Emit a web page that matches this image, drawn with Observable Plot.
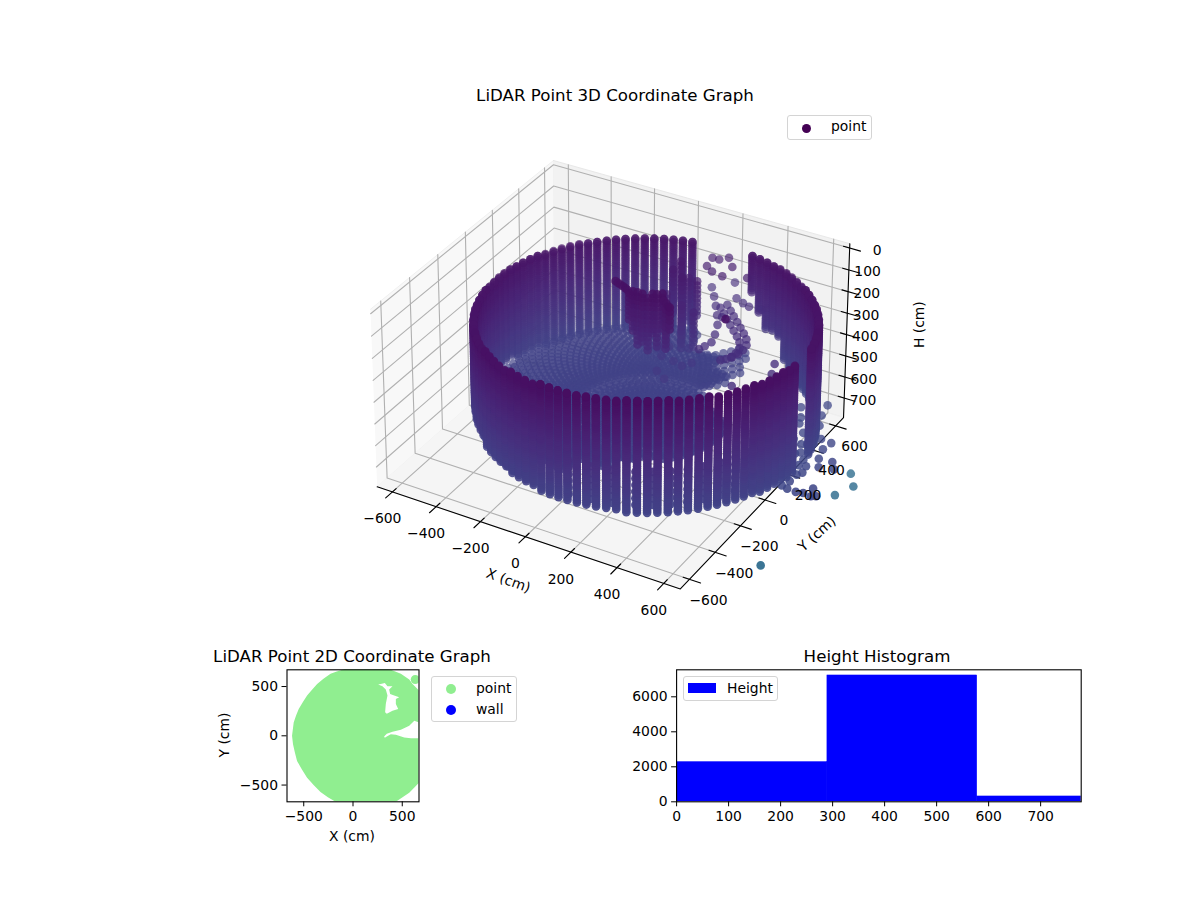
<!DOCTYPE html>
<html><head><meta charset="utf-8">
<script src="https://cdn.jsdelivr.net/npm/d3@7"></script>
<script src="https://cdn.jsdelivr.net/npm/@observablehq/plot@0.6"></script>
<style>
html,body{margin:0;padding:0;background:#fff}
#fig{position:relative;width:1200px;height:900px;overflow:hidden;font-family:"DejaVu Sans",sans-serif;color:#000}
#fig>svg,#fig>div.p{position:absolute}
.t{position:absolute;white-space:nowrap;line-height:1}
.title{font-size:16.67px;transform:translateX(-50%)}
.lab{font-size:13.9px;transform:translateX(-50%)}
.leg{position:absolute;box-sizing:border-box;border:1px solid #d4d4d4;border-radius:3px;background:#fff;font-size:13.9px}
.leg span{position:absolute;line-height:1;white-space:nowrap}
.leg i{position:absolute;display:block;border-radius:50%}
</style></head><body><div id="fig"></div>
<script>
// ---------- axes of the 3D panel
const xTicks=[-600,-400,-200,0,200,400,600];
const yTicks=[-600,-400,-200,0,200,400,600];
const hTicks=[0,100,200,300,400,500,600,700];
const xLim=[-670,670], yLim=[-670,670], hLim=[-20,793];
// ---------- wall of the scanned room
const ringX=125, ringY=30, wallRadius=662;
const wallAngles=[0,3.3,6.7,10,13.3,16.7,20,23.3,26.7,30,33.3,36.7,40,43.3,46.7,50,53.3,56.7,60,63.3,66.7,70,73.3,76.7,80,83.3,86.7,90,93.3,96.7,100,103.3,106.7,110,113.3,116.7,120,123.3,126.7,130,133.3,136.7,140,143.3,146.7,150,153.3,156.7,160,163.3,166.7,170,173.3,176.7,180,183.3,186.7,190,193.3,196.7,200,203.3,206.7,210,213.3,216.7,220,223.3,226.7,230,233.3,236.7,240,243.3,246.7,250,253.3,256.7,260,263.3,266.7,270,273.3,276.7,280,283.3,286.7,290,293.3,296.7,300,303.3,306.7,310,313.3,316.7,320,323.3,326.7,330,333.3,336.7,340,343.3,346.7,350,353.3,356.7];
const wallLevels=[60,70,80,90,100,110,120,130,140,150,160,170,180,190,200,210,220,230,240,250,260,270,280,290,300,310,320,330,340,350,360,370,380,390,400,410,420,430,440,450,460,470,480,490,500,510,520,530,540,550,560,570,580,590,600,610,620,630,640];
const objectLevels=[120,140,160,180,200,220,240,260,280,300,320,340,360,380,400,420,440,460,480,500];
// per 15 degree sector, 0..345
const wallTop=[135,145,155,160,165,170,175,180,180,180,175,170,165,160,155,145,135,123,110,105,100,105,115,125];
const wallBottom=[625,635,640,620,620,400,400,600,600,600,600,590,570,545,530,545,570,586,590,595,600,600,605,615];
// the wall's ragged lower edge beside the back gap
const edgeAngles=[56.7,60,63.3,66.7,70,73.3,76.7,80];
const edgeBottoms=[620,590,570,480,470,480,420,340];
const wallGapFrom=[0,82,357], wallGapTo=[8,103,360];
// second, inner row of returns low on the front-right wall
const innerRadius=625;
const innerAngles=[272,280,288,296,302,308,314,320,326,332,338,344,350];
const innerLevels=[440,470,500,530,560,590];
// ---------- floor
const floorH=590;
const floorRadii=[20,40,60,80,100,120,140,160,180,200,220,240,260,280,300,320,340,360,380,400,420,440,460,480,500,520,540,560,580,600,620,640];
const floorStagger=1.65;
const floorReach=[330,300,260,240,260,420,500,640,640,640,640,640,640,640,640,640,640,500,400,320,310,320,330,335];
// ---------- loose returns: x, y, then one height per group
const arcA=[[37,724],[79,666],[120,605],[159,544],[195,481],[221,412],[237,354],[228,315],[219,285]];
const arcB=[[156,635],[189,602],[220,570],[252,539],[284,507],[316,475],[345,442],[366,404],[371,364],[368,329],[359,298],[346,275],[330,256]];
const arcC=[[143,602],[176,569],[207,537],[239,506],[271,474],[303,442],[332,409],[353,371],[358,331],[355,296]];
const looseMid=[[100,803],[164,698],[204,678],[238,665],[293,671],[183,541],[526,336],[550,266],[457,113]];
const fingerA=[[168,398],[199,406],[222,429],[242,457],[262,485],[281,513]];
const fingerB=[[190,360],[221,368],[244,391],[264,419],[284,447],[303,475]];
const fingerC=[[146,436],[177,444],[200,467],[220,495],[240,523],[259,551],[272,580]];
const fingerD=[[124,474],[155,482],[178,505],[198,533],[218,561],[237,589],[250,618]];
const fingerE=[[102,512],[133,520],[156,543],[176,571],[196,599],[215,627]];
const fingerF=[[212,322],[243,330],[266,353],[286,381]];
const strands=[[46,709],[76,710],[103,742],[149,685],[241,638],[149,601],[96,613],[58,641]];
const scatterLow=[[1,350],[31,383],[54,439],[106,410],[40,306],[99,297],[145,282],[78,201],[131,165],[168,320]];
const darkDots=[[-100,185],[-85,178],[-70,172],[-55,165],[-40,158],[-25,150],[135,150],[155,135],[172,120],[406,149]];
const objectColumns=[[-16,145,130,260],[5,138,120,300],[25,140,120,360],[46,140,120,340],[65,150,140,380],[80,159,120,300],[97,165,120,360],[113,179,120,280],[188,103,120,220],[150,140,160,340],
  [-21,506,220,420],[-9,548,200,380],[33,537,260,460],[89,503,240,400],[2,412,280,500],[78,397,300,500],[130,401,320,480],[40,470,220,500]];
const rightCluster=[[677,507],[690,430],[716,361],[811,274],[803,219],[819,153],[874,159],[902,117],[845,101],[771,117],[772,75],[800,83],[808,37],[739,157],[672,228],[714,209],[734,221],[754,241],[764,280],[684,284],[626,377],[593,442],[641,335],[617,305],[808,-88],[846,-91],[874,-84],[909,-89],[893,-39],[926,-79],[680,174],[723,140],[735,79],[795,14],[793,-38],[780,-79]];
const farOutliers=[[872,-418],[937,222],[889,296],[902,134]];
const farShade=1050;
// ---------- 2D panel
const ticks2D=[-500,0,500];
const lim2D=[-670,670];
const discOutline=[[-619,0],[-609,-85],[-590,-170],[-568,-255],[-520,-340],[-466,-425],[-400,-500],[-330,-571],[-255,-625],[-177,-670],[-100,-700],[100,-710],[300,-690],[435,-670],[571,-578],[670,-476],[750,-380],[800,-100],[800,100],[760,350],[670,459],[605,527],[571,571],[486,629],[384,670],[200,720],[0,705],[-109,670],[-165,652],[-228,629],[-300,580],[-364,527],[-416,468],[-466,408],[-510,340],[-551,272],[-578,205],[-602,136]];
const hole1=[[255,520],[299,503],[333,469],[350,408],[333,323],[326,238],[343,224],[401,255],[459,272],[435,323],[435,374],[469,391],[418,408],[377,425],[367,469],[401,503],[350,503],[323,537],[282,527]];
const hole2=[[316,-7],[343,20],[401,41],[486,61],[571,102],[622,153],[670,136],[690,136],[690,-24],[670,-24],[588,-24],[520,-17],[435,10],[384,17],[343,-7],[323,-20]];
const cornerPoint=[[632,571]];
// ---------- histogram
const binEdges=[0,290,578,780];
const binCounts=[2267,7219,305];
const histXTicks=[0,100,200,300,400,500,600,700];
const histYTicks=[0,2000,4000,6000];

// ---------- view of the 3D box
const rad=Math.PI/180, elev=30*rad, azim=-60*rad, dist=10, boxH=0.55;
const W=[Math.cos(elev)*Math.cos(azim),Math.cos(elev)*Math.sin(azim),Math.sin(elev)];
const U=[-Math.sin(azim),Math.cos(azim),0];
const V=[-Math.sin(elev)*Math.cos(azim),-Math.sin(elev)*Math.sin(azim),Math.cos(elev)];
const dot3=(a,b)=>a[0]*b[0]+a[1]*b[1]+a[2]*b[2];
function proj(x,y,h){
  const p=[(x-xLim[0])/(xLim[1]-xLim[0])-.5,(y-yLim[0])/(yLim[1]-yLim[0])-.5,boxH*(.5-(h-hLim[0])/(hLim[1]-hLim[0]))];
  const depth=dist-dot3(p,W);
  return {sx:dot3(p,U)/depth,sy:dot3(p,V)/depth,depth};
}
// ---------- assemble the cloud
const cloud=[];
function add(x,y,h,c){const q=proj(x,y,h);cloud.push({x,y,h,c:c==null?h:c,...q});}
const onRing=(r,a,h)=>add(ringX+r*Math.cos(a*rad),ringY+r*Math.sin(a*rad),h);
wallAngles.forEach(a=>{
  if(wallGapFrom.some((f,i)=>a>=f&&a<=wallGapTo[i]))return;
  const s=Math.round(a/15)%24;
  const e=edgeAngles.indexOf(a);
  const bottom=e>=0?edgeBottoms[e]:wallBottom[s];
  wallLevels.filter(l=>l>=wallTop[s]&&l<=bottom).forEach(l=>onRing(wallRadius,a,l));
  onRing(wallRadius,a,wallTop[s]);
});
innerAngles.forEach(a=>innerLevels.forEach(l=>onRing(innerRadius,a,l)));
floorRadii.forEach((r,ri)=>{
  const step=r<60?6:r<140?3:r<300?2:1;
  wallAngles.forEach((a,i)=>{
    if(i%step)return;
    const s=Math.round(a/15)%24;
    if(r<=floorReach[s])onRing(r,a+(ri%2)*floorStagger,floorH);
  });
});
[[arcA,400],[arcB,400],[arcC,400],[looseMid,400],[fingerA,590],[fingerB,590],[fingerC,590],[fingerD,590],[fingerE,590],[fingerF,590],[strands,250],[scatterLow,500],[darkDots,130],[rightCluster,640]]
 .forEach(([g,h])=>g.forEach(([x,y])=>add(x,y,h)));
farOutliers.forEach(([x,y])=>add(x,y,770,farShade));
objectColumns.forEach(([x,y,a,b])=>objectLevels.filter(l=>l>=a&&l<=b).forEach(l=>add(x,y,l)));
const dMin=d3.min(cloud,d=>d.depth), dMax=d3.max(cloud,d=>d.depth);
cloud.forEach(d=>d.alpha=1-.38*(d.depth-dMin)/(dMax-dMin));
const sorted=d3.sort(cloud,d=>-d.depth);

// ---------- box helpers
const P=(x,y,h,id)=>({...proj(x,y,h),id});
const [x0,x1]=xLim,[y0,y1]=yLim,[h0,h1]=hLim;
const paneLeft=[P(x0,y0,h1),P(x0,y1,h1),P(x0,y1,h0),P(x0,y0,h0)];
const paneBack=[P(x0,y1,h1),P(x1,y1,h1),P(x1,y1,h0),P(x0,y1,h0)];
const paneFloor=[P(x0,y0,h1),P(x1,y0,h1),P(x1,y1,h1),P(x0,y1,h1)];
const grid=[];
xTicks.forEach(t=>{grid.push(P(t,y0,h1,"xf"+t),P(t,y1,h1,"xf"+t),P(t,y1,h0,"xf"+t));});
yTicks.forEach(t=>{grid.push(P(x1,t,h1,"yf"+t),P(x0,t,h1,"yf"+t),P(x0,t,h0,"yf"+t));});
hTicks.forEach(t=>{grid.push(P(x0,y0,t,"h"+t),P(x0,y1,t,"h"+t),P(x1,y1,t,"h"+t));});
const axisLines=[P(x0,y0,h1,"ax"),P(x1,y0,h1,"ax"),P(x1,y1,h1,"ax"),P(x1,y1,h0,"ax")];
const tin=.02*1340,tout=.035*1340;
const tickSegs=[];
xTicks.forEach(t=>tickSegs.push(P(t,y0+tin,h1,"x"+t),P(t,y0-tout,h1,"x"+t)));
yTicks.forEach(t=>tickSegs.push(P(x1-tin,t,h1,"y"+t),P(x1+tout,t,h1,"y"+t)));
hTicks.forEach(t=>tickSegs.push(P(x1-tin,y1,t,"z"+t),P(x1+tout,y1,t,"z"+t)));
const minus=d=>String(d).replace("-","\u2212");
const fs=13.9;
const sx=613.5,sy=364.5,kx=3460,ky=3688;

const fig=document.getElementById("fig");
const main=Plot.plot({
  width:1200,height:640,margin:0,
  style:{fontFamily:"DejaVu Sans",fontSize:fs+"px",background:"transparent",overflow:"visible"},
  x:{domain:[-.2,.2],range:[sx-.2*kx,sx+.2*kx],axis:null},
  y:{domain:[-.2,.2],range:[sy+.2*ky,sy-.2*ky],axis:null},
  color:{type:"linear",scheme:"viridis",domain:[0,3000]},
  marks:[
    Plot.line(paneLeft,{x:"sx",y:"sy",fill:"#f8f8f8",stroke:"#f0f0f0",strokeWidth:1}),
    Plot.line(paneBack,{x:"sx",y:"sy",fill:"#f2f2f2",stroke:"#e8e8e8",strokeWidth:1}),
    Plot.line(paneFloor,{x:"sx",y:"sy",fill:"#f5f5f5",stroke:"#efefef",strokeWidth:1}),
    Plot.line(grid,{x:"sx",y:"sy",z:"id",stroke:"#b0b0b0",strokeWidth:1.1}),
    Plot.line(axisLines,{x:"sx",y:"sy",stroke:"#000",strokeWidth:1.1}),
    Plot.line(tickSegs,{x:"sx",y:"sy",z:"id",stroke:"#000",strokeWidth:1.1}),
    Plot.dot(sorted,{x:"sx",y:"sy",r:4.3,fill:"c",fillOpacity:{value:"alpha",scale:null},stroke:"none"}),
    Plot.text(xTicks.map(t=>({...proj(t,y0,h1),t})),{x:"sx",y:"sy",text:d=>minus(d.t),dx:-10,dy:27,fontSize:fs,fill:"#000"}),
    Plot.text(yTicks.map(t=>({...proj(x1,t,h1),t})),{x:"sx",y:"sy",text:d=>minus(d.t),dx:19,dy:21,fontSize:fs,fill:"#000"}),
    Plot.text(hTicks.map(t=>({...proj(x1,y1,t),t})),{x:"sx",y:"sy",text:d=>minus(d.t),dx:32,dy:2,textAnchor:"end",fontSize:fs,fill:"#000"}),
    Plot.text([proj(0,y0,h1)],{x:"sx",y:"sy",text:()=>"X (cm)",dx:-17,dy:44,rotate:20,fontSize:fs,fill:"#000"}),
    Plot.text([proj(x1,0,h1)],{x:"sx",y:"sy",text:()=>"Y (cm)",dx:52,dy:34,rotate:-42,fontSize:fs,fill:"#000"}),
    Plot.text([proj(x1,y1,400)],{x:"sx",y:"sy",text:()=>"H (cm)",dx:73,dy:-10,rotate:-90,fontSize:fs,fill:"#000"})
  ]
});
main.style.left="0px";main.style.top="0px";fig.appendChild(main);

const axisStyle={fontFamily:"DejaVu Sans",fontSize:fs+"px",background:"transparent",overflow:"visible",color:"#000"};
const poly=(pts,fill)=>Plot.line(pts.concat([pts[0]]),{x:d=>d[0],y:d=>d[1],fill,stroke:"none",clip:"frame"});
const p2=Plot.plot({
  width:230,height:190,marginLeft:86.5,marginRight:11.5,marginTop:19.3,marginBottom:38.7,
  style:axisStyle,
  x:{domain:lim2D,ticks:ticks2D},
  y:{domain:lim2D,ticks:ticks2D},
  marks:[
    poly(discOutline,"lightgreen"),
    poly(hole1,"#fff"),poly(hole2,"#fff"),
    Plot.dot(cornerPoint,{x:d=>d[0],y:d=>d[1],r:4.5,fill:"lightgreen",clip:"frame"}),
    Plot.axisX(ticks2D,{tickSize:5,tickPadding:4,label:null,tickFormat:minus,fontSize:fs}),
    Plot.axisY(ticks2D,{tickSize:5,tickPadding:4,label:null,tickFormat:minus,fontSize:fs}),
    Plot.frame({stroke:"#000",strokeWidth:1.1})
  ]
});
p2.style.left="200px";p2.style.top="650px";fig.appendChild(p2);

const bins=binCounts.map((c,i)=>({a:binEdges[i],b:binEdges[i+1],c}));
const p3=Plot.plot({
  width:480,height:190,marginLeft:56.1,marginRight:19.3,marginTop:19.3,marginBottom:38.7,
  style:axisStyle,
  x:{domain:[0,778]},
  y:{domain:[0,7543]},
  marks:[
    Plot.rectY(bins,{x1:"a",x2:"b",y:"c",fill:"blue",stroke:"blue",strokeWidth:.5,clip:"frame",inset:0}),
    Plot.axisX(histXTicks,{tickSize:5,tickPadding:4,label:null,fontSize:fs,tickFormat:d=>String(d)}),
    Plot.axisY(histYTicks,{tickSize:5,tickPadding:4,label:null,fontSize:fs,tickFormat:d=>String(d)}),
    Plot.frame({stroke:"#000",strokeWidth:1.1})
  ]
});
p3.style.left="620px";p3.style.top="650px";fig.appendChild(p3);

function html(h){const d=document.createElement("div");d.innerHTML=h;while(d.firstChild)fig.appendChild(d.firstChild);}
html(`<div class="t title" style="left:615px;top:88px">LiDAR Point 3D Coordinate Graph</div>
<div class="t title" style="left:352px;top:649px">LiDAR Point 2D Coordinate Graph</div>
<div class="t title" style="left:877px;top:649px">Height Histogram</div>
<div class="t lab" style="left:352px;top:830px">X (cm)</div>
<div class="t lab" style="left:225px;top:735px;transform:translate(-50%,-50%) rotate(-90deg)">Y (cm)</div>
<div class="leg" style="left:787px;top:115px;width:85px;height:25px"><i style="left:14px;top:8px;width:9px;height:9px;background:#440154"></i><span style="left:43px;top:4px">point</span></div>
<div class="leg" style="left:431px;top:676px;width:86px;height:46px"><i style="left:14px;top:7px;width:10px;height:10px;background:lightgreen"></i><span style="left:44px;top:5px">point</span><i style="left:14px;top:28px;width:10px;height:10px;background:blue"></i><span style="left:44px;top:26px">wall</span></div>
<div class="leg" style="left:683px;top:676px;width:95px;height:25px"><i style="left:4px;top:6px;width:28px;height:10px;border-radius:0;background:blue"></i><span style="left:43px;top:5px">Height</span></div>`);
</script></body></html>
